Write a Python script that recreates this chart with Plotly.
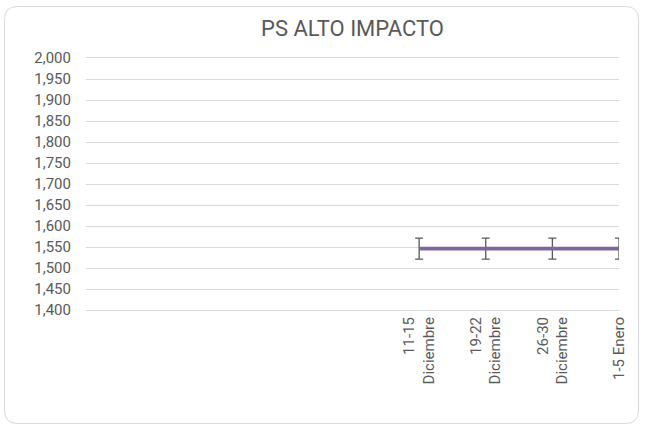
import plotly.graph_objects as go

# ---- data ----
title_text = "PS ALTO IMPACTO"
n_slots = 9                      # category slots on the x axis (first five are empty)
week_labels = ["11-15<br>Diciembre", "19-22<br>Diciembre", "26-30<br>Diciembre", "1-5 Enero"]
ps_values = [1546, 1546, 1546, 1546]
ps_errors = [25, 25, 25, 25]
y_min, y_max, y_step = 1400, 2000, 50

first_slot = n_slots - len(week_labels)
x_idx = list(range(first_slot, n_slots))

# ---- layout geometry ----
W, H = 648, 425
ML, MR, MT, MB = 86, 29, 58, 115
PW, PH = W - ML - MR, H - MT - MB

def px(x):
    return (x - ML) / PW

def py(y):
    return (H - MB - y) / PH

# rounded border
bx0, bx1, by0, by1, r = 4.5, 638.5, 6.5, 423.5, 13
path = (
    f"M {px(bx0 + r)},{py(by0)} L {px(bx1 - r)},{py(by0)} "
    f"Q {px(bx1)},{py(by0)} {px(bx1)},{py(by0 + r)} "
    f"L {px(bx1)},{py(by1 - r)} Q {px(bx1)},{py(by1)} {px(bx1 - r)},{py(by1)} "
    f"L {px(bx0 + r)},{py(by1)} Q {px(bx0)},{py(by1)} {px(bx0)},{py(by1 - r)} "
    f"L {px(bx0)},{py(by0 + r)} Q {px(bx0)},{py(by0)} {px(bx0 + r)},{py(by0)} Z"
)

txt = "#595959"
grid = "#D9D9D9"

fig = go.Figure()
fig.add_trace(go.Scatter(
    x=x_idx, y=ps_values, mode="lines",
    line=dict(color="#8064A2", width=3.8),
    error_y=dict(type="data", array=ps_errors, symmetric=True,
                 color="#595959", thickness=1.3, width=4),
    cliponaxis=False, showlegend=False, hoverinfo="y",
))

fig.update_layout(
    width=W, height=H,
    margin=dict(l=ML, r=MR, t=MT, b=MB, pad=0),
    paper_bgcolor="white", plot_bgcolor="white",
    font=dict(family="Roboto, Arial, sans-serif", size=15, color=txt),
    title=dict(text=title_text, x=0.5, xref="paper", xanchor="center",
               y=1 - 28 / H, yref="container", yanchor="middle",
               font=dict(family="Roboto, Arial, sans-serif", size=22, color=txt)),
    xaxis=dict(range=[0, n_slots - 1], tickmode="array", tickvals=x_idx,
               ticktext=week_labels, tickangle=-90, showgrid=False,
               zeroline=False, showline=True, mirror=True, linecolor=grid, linewidth=1,
               ticks="", fixedrange=True),
    yaxis=dict(range=[y_min, y_max], dtick=y_step, tick0=y_min,
               tickformat=",", showgrid=True, gridcolor=grid, gridwidth=1,
               zeroline=False, showline=False, ticks="",
               ticklabelstandoff=14, fixedrange=True),
    shapes=[dict(type="path", path=path, xref="paper", yref="paper",
                 line=dict(color=grid, width=1), fillcolor="rgba(0,0,0,0)",
                 layer="below")],
)

fig.write_html("out.html", config={"displayModeBar": False},
               post_script="document.body.style.margin='0';document.body.style.overflow='hidden';")
